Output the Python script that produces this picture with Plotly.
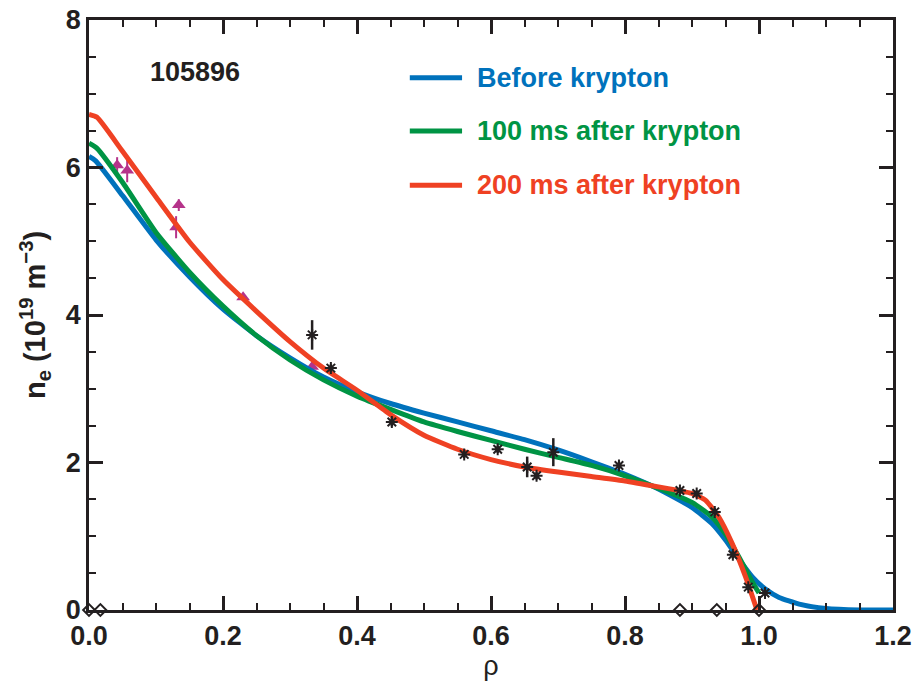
import plotly.graph_objects as go

# ---- data ----
rho_before = [0.0, 0.01, 0.05, 0.10, 0.15, 0.20, 0.25, 0.30, 0.35, 0.40, 0.45, 0.50, 0.55, 0.60, 0.65, 0.70, 0.75, 0.80, 0.85, 0.90, 0.93, 0.95, 0.97, 0.99, 1.01, 1.03, 1.06, 1.10, 1.15, 1.20]
ne_before = [6.15, 6.09, 5.62, 5.02, 4.52, 4.08, 3.72, 3.42, 3.16, 2.96, 2.80, 2.67, 2.55, 2.43, 2.31, 2.17, 2.01, 1.84, 1.64, 1.39, 1.17, 0.95, 0.69, 0.45, 0.28, 0.17, 0.08, 0.02, 0.0, 0.0]

rho_100 = [0.0, 0.012, 0.05, 0.10, 0.15, 0.20, 0.25, 0.30, 0.35, 0.40, 0.45, 0.50, 0.55, 0.60, 0.65, 0.70, 0.75, 0.80, 0.85, 0.90, 0.93, 0.95, 0.97, 0.99, 1.0]
ne_100 = [6.33, 6.26, 5.80, 5.12, 4.58, 4.12, 3.72, 3.39, 3.12, 2.90, 2.72, 2.55, 2.42, 2.30, 2.18, 2.07, 1.96, 1.82, 1.65, 1.46, 1.26, 1.03, 0.72, 0.38, 0.23]

rho_200 = [0.0, 0.012, 0.05, 0.10, 0.15, 0.20, 0.25, 0.30, 0.35, 0.40, 0.45, 0.50, 0.55, 0.60, 0.65, 0.70, 0.75, 0.80, 0.85, 0.88, 0.90, 0.92, 0.94, 0.96, 0.98, 0.997]
ne_200 = [6.72, 6.68, 6.22, 5.60, 4.99, 4.48, 4.05, 3.64, 3.28, 2.98, 2.65, 2.37, 2.18, 2.04, 1.94, 1.87, 1.81, 1.75, 1.67, 1.62, 1.58, 1.49, 1.26, 0.90, 0.45, 0.0]

tri_rho = [0.042, 0.057, 0.130, 0.134, 0.230, 0.333]
tri_ne = [6.03, 5.96, 5.19, 5.49, 4.24, 3.30]
tri_err = [0.11, 0.16, 0.15, 0.08, 0.05, 0.05]

ast_rho = [0.333, 0.361, 0.452, 0.560, 0.610, 0.654, 0.668, 0.693, 0.791, 0.882, 0.907, 0.934, 0.961, 0.984, 1.009]
ast_ne = [3.73, 3.28, 2.55, 2.11, 2.18, 1.94, 1.82, 2.14, 1.96, 1.62, 1.58, 1.33, 0.75, 0.31, 0.23]
ast_err = [0.20, 0.05, 0.06, 0.05, 0.05, 0.14, 0.05, 0.19, 0.05, 0.04, 0.04, 0.05, 0.05, 0.04, 0.04]

dia_rho = [0.0, 0.017, 0.882, 0.937, 1.0]
dia_ne = [0, 0, 0, 0, 0]

legend_names = ["Before krypton", "100 ms after krypton", "200 ms after krypton"]
shot_label = "105896"

# ---- styles ----
BLUE = "#0072BC"
GREEN = "#009444"
RED = "#EF4123"
MAG = "#B5338A"
INK = "#231F20"
FONT = "Liberation Sans, Arial, sans-serif"

fig = go.Figure()

fig.add_trace(go.Scatter(x=tri_rho, y=tri_ne, mode="markers",
                         marker=dict(symbol="triangle-up", size=12, color=MAG),
                         error_y=dict(type="data", array=tri_err, color=MAG, thickness=2, width=0),
                         showlegend=False))

for xs, ys, col in [(rho_before, ne_before, BLUE), (rho_100, ne_100, GREEN), (rho_200, ne_200, RED)]:
    fig.add_trace(go.Scatter(x=xs, y=ys, mode="lines",
                             line=dict(color=col, width=5, shape="spline", smoothing=0.5),
                             showlegend=False))

fig.add_trace(go.Scatter(x=ast_rho, y=ast_ne, mode="markers",
                         marker=dict(symbol="asterisk-open", size=10, color=INK,
                                     line=dict(color=INK, width=2)),
                         error_y=dict(type="data", array=ast_err, color=INK, thickness=2.5, width=0),
                         showlegend=False))

fig.add_trace(go.Scatter(x=dia_rho, y=dia_ne, mode="markers",
                         marker=dict(symbol="diamond-open", size=9, color=INK,
                                     line=dict(color=INK, width=2)),
                         cliponaxis=False, showlegend=False))

# manual legend
leg_y = [0.902, 0.812, 0.720]
for name, col, yy in zip(legend_names, [BLUE, GREEN, RED], leg_y):
    fig.add_shape(type="line", xref="paper", yref="paper", x0=0.399, x1=0.464, y0=yy, y1=yy,
                  line=dict(color=col, width=5))
    fig.add_annotation(xref="paper", yref="paper", x=0.48, y=yy, text="<b>%s</b>" % name,
                       showarrow=False, xanchor="left", yanchor="middle",
                       font=dict(family=FONT, size=27, color=col))

fig.add_annotation(xref="paper", yref="paper", x=0.132, y=0.912, text="<b>%s</b>" % shot_label,
                   showarrow=False, xanchor="center", yanchor="middle",
                   font=dict(family=FONT, size=27, color=INK))

axis_common = dict(showgrid=False, zeroline=False, showline=True, linecolor=INK, linewidth=2.5,
                   mirror="ticks", ticks="inside", ticklen=14, tickwidth=2.5, tickcolor=INK,
                   automargin=False,
                   tickfont=dict(family=FONT, size=27, color=INK, weight="bold"))

fig.update_xaxes(range=[0, 1.2], dtick=0.2, tick0=0, tickformat=".1f",
                 minor=dict(dtick=0.05, ticks="inside", ticklen=7, tickwidth=2, tickcolor=INK),
                 title=dict(text="ρ", font=dict(family=FONT, size=27, color=INK), standoff=4),
                 **axis_common)
fig.update_yaxes(range=[0, 8], dtick=2, tick0=0,
                 minor=dict(dtick=0.5, ticks="inside", ticklen=7, tickwidth=2, tickcolor=INK),
                 title=dict(text="<b>n<sub>e</sub> (10<sup>19</sup> m<sup>−3</sup>)</b>",
                            font=dict(family=FONT, size=29, color=INK), standoff=12),
                 **axis_common)

fig.update_layout(width=915, height=692, margin=dict(l=89, r=22, t=20, b=82, autoexpand=False),
                  plot_bgcolor="white", paper_bgcolor="white", showlegend=False)

fig.write_html("out.html")
